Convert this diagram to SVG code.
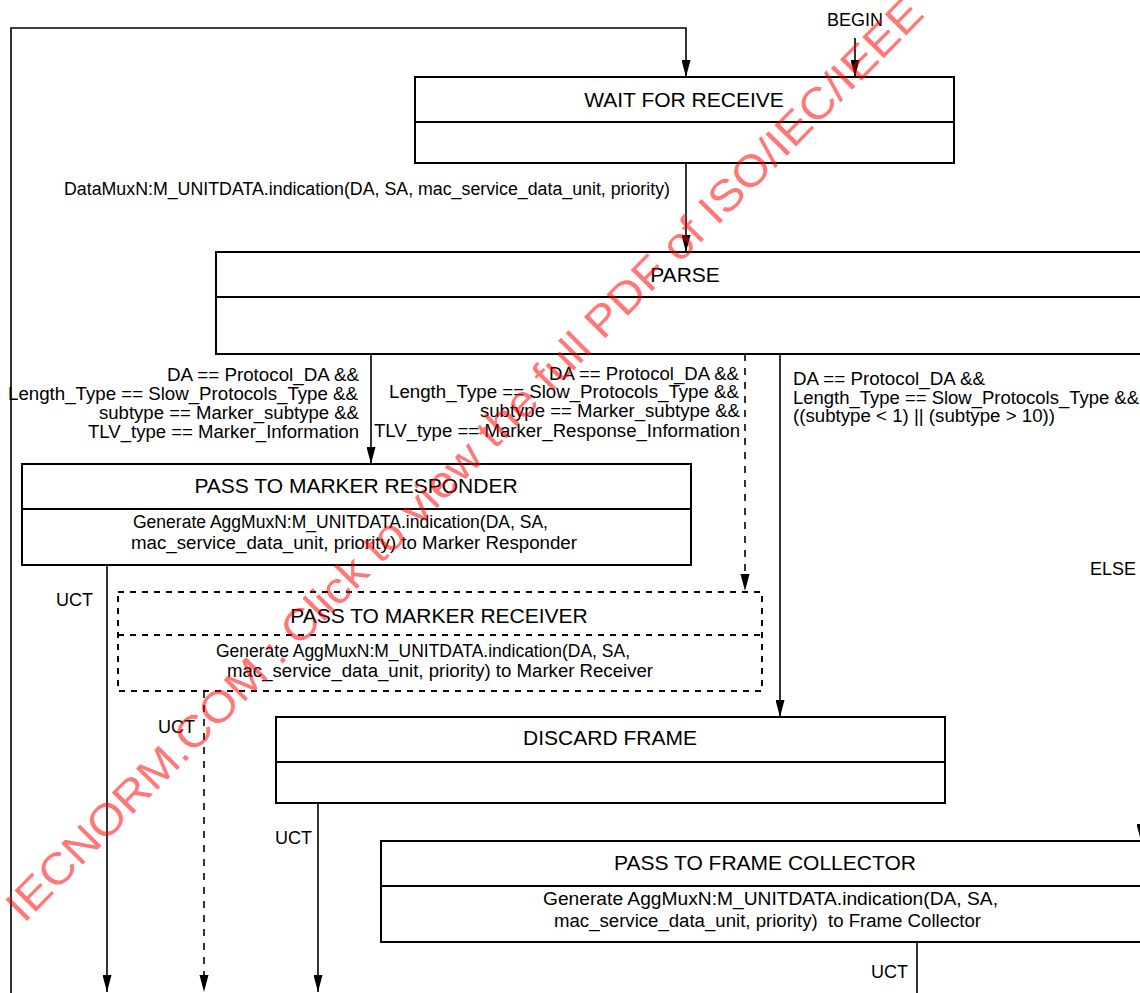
<svg xmlns="http://www.w3.org/2000/svg" width="1140" height="993" viewBox="0 0 1140 993">
  <style>
    .box { fill: #ffffff; stroke: #000000; stroke-width: 2; }
    .dbox { fill: #ffffff; stroke: #000000; stroke-width: 2; stroke-dasharray: 6 6; }
    .div { stroke: #000000; stroke-width: 2; }
    .ddiv { stroke: #000000; stroke-width: 2; stroke-dasharray: 6 6; }
    .title { font-family: "Liberation Sans", Arial, sans-serif; font-size: 21px; fill: #000000; text-anchor: middle; }
    .lbl { font-family: "Liberation Sans", Arial, sans-serif; font-size: 18px; fill: #000000; }
    .end { text-anchor: end; }
    .wire { fill: none; stroke: #000000; stroke-width: 1.6; }
    .dwire { fill: none; stroke: #000000; stroke-width: 1.6; stroke-dasharray: 7 7; }
    .head { fill: #000000; }
    .mark { font-family: "Liberation Sans", Arial, sans-serif; font-size: 44px; fill: #ff0000; fill-opacity: 0.55; }
  </style>
  <defs>
    <marker id="arrow" markerUnits="userSpaceOnUse" markerWidth="17" markerHeight="9" refX="17" refY="4.5" orient="auto" viewBox="0 0 17 9">
      <path d="M0,0 L17,4.5 L0,9 Z" fill="#000000"/>
    </marker>
  </defs>

  <rect width="1140" height="993" fill="#ffffff"/>

  <!-- state boxes -->
  <g id="wait-for-receive">
    <rect class="box" x="415" y="77" width="539" height="86"/>
    <line class="div" x1="415" y1="122" x2="954" y2="122"/>
    <text class="title" x="684" y="107">WAIT FOR RECEIVE</text>
  </g>

  <g id="parse">
    <rect class="box" x="216" y="252" width="940" height="102"/>
    <line class="div" x1="216" y1="297" x2="1156" y2="297"/>
    <text class="title" x="685" y="282">PARSE</text>
  </g>

  <g id="pass-to-marker-responder">
    <rect class="box" x="22" y="464" width="669" height="101"/>
    <line class="div" x1="22" y1="509" x2="691" y2="509"/>
    <text class="title" x="356" y="493">PASS TO MARKER RESPONDER</text>
    <text class="lbl" x="133" y="528" textLength="415" lengthAdjust="spacingAndGlyphs">Generate AggMuxN:M_UNITDATA.indication(DA, SA,</text>
    <text class="lbl" x="131" y="549" textLength="446" lengthAdjust="spacingAndGlyphs">mac_service_data_unit, priority) to Marker Responder</text>
  </g>

  <g id="pass-to-marker-receiver">
    <rect class="dbox" x="118" y="592" width="644" height="99"/>
    <line class="ddiv" x1="118" y1="635" x2="762" y2="635"/>
    <text class="title" x="439" y="623">PASS TO MARKER RECEIVER</text>
    <text class="lbl" x="216" y="657" textLength="414" lengthAdjust="spacingAndGlyphs">Generate AggMuxN:M_UNITDATA.indication(DA, SA,</text>
    <text class="lbl" x="227" y="677" textLength="426" lengthAdjust="spacingAndGlyphs">mac_service_data_unit, priority) to Marker Receiver</text>
  </g>

  <g id="discard-frame">
    <rect class="box" x="276" y="717" width="669" height="86"/>
    <line class="div" x1="276" y1="762" x2="945" y2="762"/>
    <text class="title" x="610" y="745">DISCARD FRAME</text>
  </g>

  <g id="pass-to-frame-collector">
    <rect class="box" x="381" y="841" width="775" height="101"/>
    <line class="div" x1="381" y1="886" x2="1156" y2="886"/>
    <text class="title" x="765" y="870">PASS TO FRAME COLLECTOR</text>
    <text class="lbl" x="543" y="905" textLength="455" lengthAdjust="spacingAndGlyphs">Generate AggMuxN:M_UNITDATA.indication(DA, SA,</text>
    <text class="lbl" x="554" y="927" textLength="427" lengthAdjust="spacingAndGlyphs" xml:space="preserve">mac_service_data_unit, priority)  to Frame Collector</text>
  </g>

  <!-- transitions -->
  <g id="connectors">
    <path class="wire" d="M11,993 V28 H686 V77" marker-end="url(#arrow)"/>
    <path class="wire" d="M855,38 V77" marker-end="url(#arrow)"/>
    <path class="wire" d="M686,163 V252" marker-end="url(#arrow)"/>
    <path class="wire" d="M371,354 V464" marker-end="url(#arrow)"/>
    <path class="dwire" d="M745,354 V576"/>
    <path class="head" d="M740.5,574 L745,591 L749.5,574 Z"/>
    <path class="wire" d="M780,354 V717" marker-end="url(#arrow)"/>
    <path class="wire" d="M1141,790 V841" marker-end="url(#arrow)"/>
    <path class="wire" d="M107,565 V992" marker-end="url(#arrow)"/>
    <path class="dwire" d="M204,691 V978"/>
    <path class="head" d="M199.5,975 L204,992 L208.5,975 Z"/>
    <path class="wire" d="M318,803 V992" marker-end="url(#arrow)"/>
    <path class="wire" d="M917,942 V993"/>

    <text class="lbl" x="855" y="26" text-anchor="middle">BEGIN</text>
    <text class="lbl end" x="670" y="195" textLength="606" lengthAdjust="spacingAndGlyphs">DataMuxN:M_UNITDATA.indication(DA, SA, mac_service_data_unit, priority)</text>

    <text class="lbl end" x="359" y="381" textLength="192" lengthAdjust="spacingAndGlyphs">DA == Protocol_DA &amp;&amp;</text>
    <text class="lbl end" x="358" y="400" textLength="350" lengthAdjust="spacingAndGlyphs">Length_Type == Slow_Protocols_Type &amp;&amp;</text>
    <text class="lbl end" x="359" y="419" textLength="260" lengthAdjust="spacingAndGlyphs">subtype == Marker_subtype &amp;&amp;</text>
    <text class="lbl end" x="359" y="438" textLength="271" lengthAdjust="spacingAndGlyphs">TLV_type == Marker_Information</text>

    <text class="lbl end" x="739" y="380" textLength="190" lengthAdjust="spacingAndGlyphs">DA == Protocol_DA &amp;&amp;</text>
    <text class="lbl end" x="739" y="398" textLength="350" lengthAdjust="spacingAndGlyphs">Length_Type == Slow_Protocols_Type &amp;&amp;</text>
    <text class="lbl end" x="740" y="417" textLength="260" lengthAdjust="spacingAndGlyphs">subtype == Marker_subtype &amp;&amp;</text>
    <text class="lbl end" x="740" y="437" textLength="366" lengthAdjust="spacingAndGlyphs">TLV_type == Marker_Response_Information</text>

    <text class="lbl" x="793" y="385" textLength="192" lengthAdjust="spacingAndGlyphs">DA == Protocol_DA &amp;&amp;</text>
    <text class="lbl" x="793" y="404" textLength="346" lengthAdjust="spacingAndGlyphs">Length_Type == Slow_Protocols_Type &amp;&amp;</text>
    <text class="lbl" x="793" y="422" textLength="262" lengthAdjust="spacingAndGlyphs">((subtype &lt; 1) || (subtype &gt; 10))</text>

    <text class="lbl" x="1090" y="575">ELSE</text>
    <text class="lbl" x="56" y="606">UCT</text>
    <text class="lbl" x="158" y="733">UCT</text>
    <text class="lbl" x="275" y="844">UCT</text>
    <text class="lbl" x="871" y="978">UCT</text>
  </g>

  <!-- diagonal stamp across the sheet -->
  <text class="mark" x="24" y="924" transform="rotate(-45.2 24 924)" textLength="1280" lengthAdjust="spacingAndGlyphs">IECNORM.COM : Click to view the full PDF of ISO/IEC/IEEE</text>
</svg>
